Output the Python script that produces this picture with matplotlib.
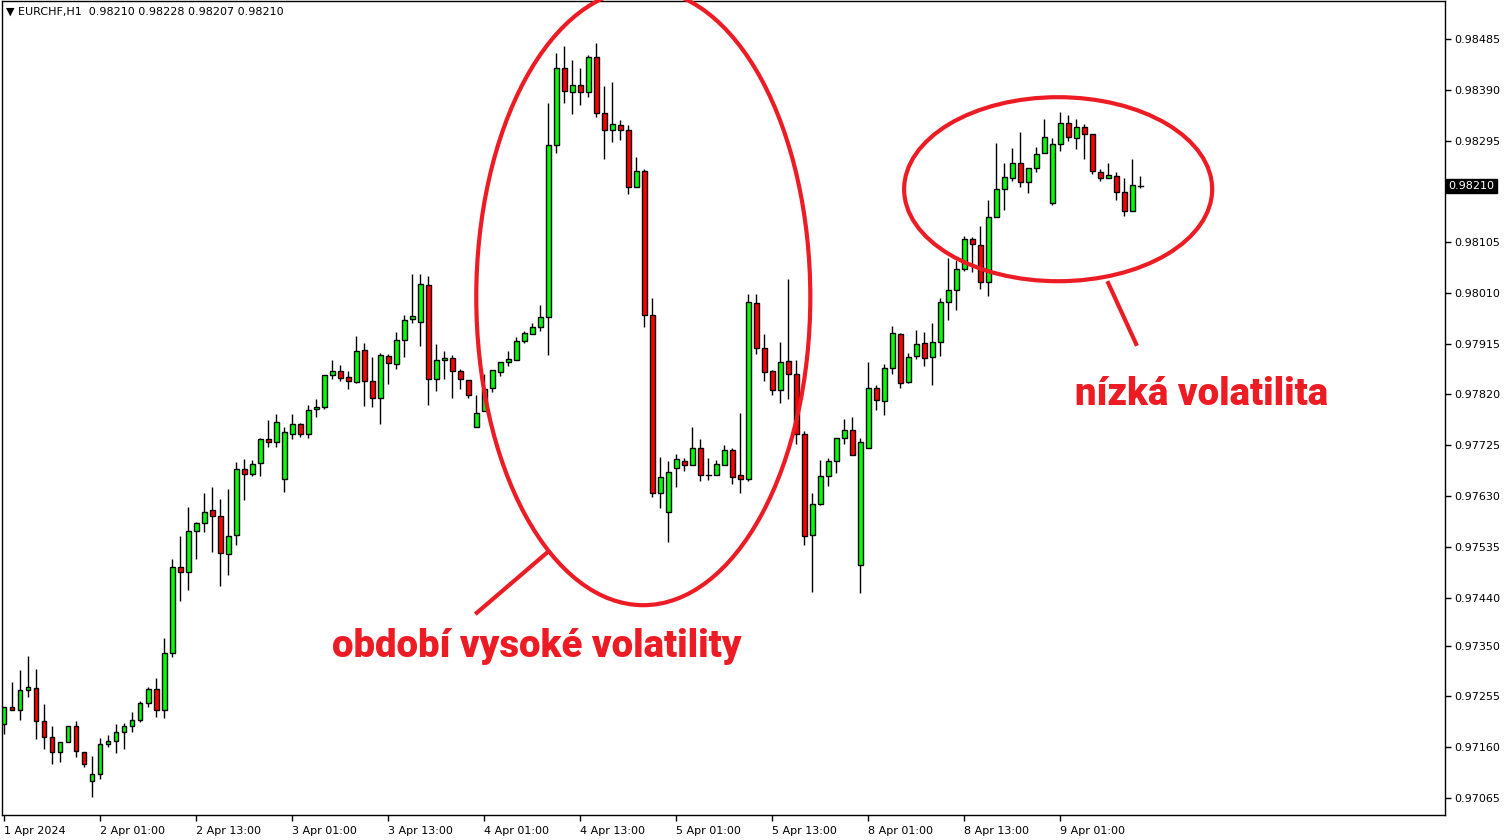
import matplotlib
matplotlib.use("Agg")
import matplotlib.pyplot as plt
from matplotlib.patches import Rectangle, Ellipse
from matplotlib.transforms import blended_transform_factory
import numpy as np

symbol = "EURCHF,H1"

# hourly candles
opens = [0.97203, 0.97235, 0.97230, 0.97267, 0.97271, 0.97209, 0.97179, 0.97151, 0.97170, 0.97200,
         0.97151, 0.97097, 0.97110, 0.97166, 0.97172, 0.97188, 0.97200, 0.97211, 0.97243, 0.97269,
         0.97230, 0.97336, 0.97497, 0.97488, 0.97565, 0.97580, 0.97604, 0.97593, 0.97521, 0.97557,
         0.97680, 0.97671, 0.97692, 0.97737, 0.97731, 0.97662, 0.97746, 0.97765, 0.97746, 0.97793,
         0.97796, 0.97856, 0.97864, 0.97853, 0.97843, 0.97903, 0.97845, 0.97813, 0.97892, 0.97877,
         0.97922, 0.97961, 0.97955, 0.98025, 0.97849, 0.97884, 0.97888, 0.97864, 0.97847, 0.97759,
         0.97789, 0.97832, 0.97862, 0.97881, 0.97884, 0.97920, 0.97933, 0.97946, 0.97965, 0.98287,
         0.98431, 0.98386, 0.98399, 0.98386, 0.98451, 0.98347, 0.98315, 0.98324, 0.98315, 0.98208,
         0.98238, 0.97969, 0.97636, 0.97600, 0.97682, 0.97696, 0.97688, 0.97720, 0.97669, 0.97669,
         0.97688, 0.97716, 0.97669, 0.97662, 0.97991, 0.97907, 0.97864, 0.97828, 0.97883, 0.97858,
         0.97746, 0.97557, 0.97615, 0.97667, 0.97696, 0.97738, 0.97754, 0.97501, 0.97720, 0.97832,
         0.97808, 0.97870, 0.97933, 0.97843, 0.97892, 0.97916, 0.97890, 0.97918, 0.97993, 0.98015,
         0.98055, 0.98111, 0.98100, 0.98030, 0.98152, 0.98204, 0.98225, 0.98253, 0.98217, 0.98244,
         0.98272, 0.98178, 0.98289, 0.98328, 0.98300, 0.98320, 0.98307, 0.98236, 0.98225, 0.98229,
         0.98199, 0.98163, 0.98210]
highs = [0.97235, 0.97282, 0.97304, 0.97331, 0.97306, 0.97241, 0.97200, 0.97170, 0.97200, 0.97209,
         0.97151, 0.97144, 0.97177, 0.97183, 0.97203, 0.97205, 0.97226, 0.97246, 0.97273, 0.97290,
         0.97364, 0.97512, 0.97555, 0.97609, 0.97581, 0.97636, 0.97647, 0.97624, 0.97643, 0.97694,
         0.97699, 0.97697, 0.97738, 0.97772, 0.97783, 0.97759, 0.97783, 0.97767, 0.97800, 0.97811,
         0.97856, 0.97884, 0.97875, 0.97864, 0.97929, 0.97916, 0.97890, 0.97897, 0.97896, 0.97937,
         0.97969, 0.98045, 0.98045, 0.98042, 0.97914, 0.97901, 0.97894, 0.97868, 0.97847, 0.97819,
         0.97858, 0.97847, 0.97881, 0.97901, 0.97928, 0.97939, 0.97954, 0.97987, 0.98365, 0.98459,
         0.98472, 0.98446, 0.98431, 0.98455, 0.98478, 0.98397, 0.98405, 0.98333, 0.98324, 0.98264,
         0.98242, 0.98000, 0.97703, 0.97696, 0.97709, 0.97701, 0.97759, 0.97737, 0.97701, 0.97697,
         0.97725, 0.97720, 0.97785, 0.98008, 0.98008, 0.97933, 0.97866, 0.97918, 0.98036, 0.97884,
         0.97752, 0.97636, 0.97697, 0.97701, 0.97738, 0.97774, 0.97778, 0.97738, 0.97881, 0.97838,
         0.97877, 0.97948, 0.97935, 0.97897, 0.97941, 0.97937, 0.97954, 0.98000, 0.98075, 0.98071,
         0.98116, 0.98115, 0.98135, 0.98184, 0.98290, 0.98253, 0.98281, 0.98311, 0.98244, 0.98283,
         0.98335, 0.98300, 0.98348, 0.98343, 0.98335, 0.98326, 0.98307, 0.98242, 0.98253, 0.98236,
         0.98225, 0.98260, 0.98228]
lows = [0.97185, 0.97230, 0.97211, 0.97254, 0.97175, 0.97157, 0.97129, 0.97132, 0.97170, 0.97142,
        0.97123, 0.97067, 0.97100, 0.97160, 0.97149, 0.97157, 0.97188, 0.97207, 0.97235, 0.97216,
        0.97215, 0.97329, 0.97434, 0.97454, 0.97512, 0.97563, 0.97525, 0.97462, 0.97482, 0.97538,
        0.97622, 0.97667, 0.97667, 0.97722, 0.97722, 0.97637, 0.97737, 0.97740, 0.97738, 0.97778,
        0.97793, 0.97849, 0.97845, 0.97830, 0.97841, 0.97798, 0.97796, 0.97765, 0.97840, 0.97868,
        0.97890, 0.97954, 0.97911, 0.97800, 0.97826, 0.97849, 0.97813, 0.97830, 0.97813, 0.97759,
        0.97789, 0.97825, 0.97855, 0.97873, 0.97884, 0.97916, 0.97933, 0.97939, 0.97894, 0.98272,
        0.98365, 0.98345, 0.98361, 0.98376, 0.98339, 0.98260, 0.98292, 0.98296, 0.98195, 0.98208,
        0.97946, 0.97628, 0.97608, 0.97544, 0.97647, 0.97677, 0.97688, 0.97658, 0.97660, 0.97669,
        0.97688, 0.97652, 0.97636, 0.97658, 0.97896, 0.97845, 0.97819, 0.97804, 0.97811, 0.97727,
        0.97538, 0.97450, 0.97613, 0.97649, 0.97673, 0.97727, 0.97707, 0.97448, 0.97720, 0.97791,
        0.97781, 0.97858, 0.97832, 0.97841, 0.97886, 0.97873, 0.97838, 0.97892, 0.97959, 0.97978,
        0.98051, 0.98049, 0.98017, 0.98004, 0.98152, 0.98165, 0.98219, 0.98208, 0.98197, 0.98236,
        0.98272, 0.98174, 0.98275, 0.98294, 0.98279, 0.98260, 0.98232, 0.98219, 0.98225, 0.98184,
        0.98154, 0.98163, 0.98207]
closes = [0.97235, 0.97230, 0.97267, 0.97273, 0.97209, 0.97179, 0.97151, 0.97170, 0.97200, 0.97153,
          0.97129, 0.97110, 0.97166, 0.97172, 0.97188, 0.97200, 0.97211, 0.97243, 0.97269, 0.97230,
          0.97336, 0.97497, 0.97488, 0.97565, 0.97580, 0.97600, 0.97593, 0.97523, 0.97555, 0.97680,
          0.97671, 0.97690, 0.97737, 0.97731, 0.97768, 0.97750, 0.97765, 0.97746, 0.97791, 0.97796,
          0.97856, 0.97864, 0.97851, 0.97845, 0.97901, 0.97845, 0.97813, 0.97894, 0.97879, 0.97922,
          0.97959, 0.97967, 0.98027, 0.97849, 0.97884, 0.97888, 0.97864, 0.97849, 0.97819, 0.97785,
          0.97830, 0.97866, 0.97881, 0.97886, 0.97920, 0.97935, 0.97946, 0.97965, 0.98287, 0.98431,
          0.98388, 0.98399, 0.98386, 0.98451, 0.98347, 0.98315, 0.98326, 0.98315, 0.98208, 0.98238,
          0.97969, 0.97636, 0.97665, 0.97675, 0.97699, 0.97688, 0.97720, 0.97669, 0.97669, 0.97690,
          0.97716, 0.97665, 0.97662, 0.97993, 0.97907, 0.97862, 0.97828, 0.97881, 0.97858, 0.97746,
          0.97555, 0.97615, 0.97667, 0.97696, 0.97738, 0.97754, 0.97707, 0.97731, 0.97832, 0.97810,
          0.97870, 0.97935, 0.97841, 0.97890, 0.97914, 0.97888, 0.97918, 0.97993, 0.98015, 0.98055,
          0.98111, 0.98101, 0.98030, 0.98152, 0.98204, 0.98227, 0.98253, 0.98217, 0.98244, 0.98270,
          0.98302, 0.98289, 0.98328, 0.98302, 0.98320, 0.98307, 0.98238, 0.98225, 0.98231, 0.98199,
          0.98163, 0.98212, 0.98210]

time_labels = ["1 Apr 2024", "2 Apr 01:00", "2 Apr 13:00", "3 Apr 01:00", "3 Apr 13:00",
               "4 Apr 01:00", "4 Apr 13:00", "5 Apr 01:00", "5 Apr 13:00", "8 Apr 01:00",
               "8 Apr 13:00", "9 Apr 01:00"]
label_step = 12
price_ticks = [0.98485, 0.98390, 0.98295, 0.98200, 0.98105, 0.98010, 0.97915, 0.97820,
               0.97725, 0.97630, 0.97535, 0.97440, 0.97350, 0.97255, 0.97160, 0.97065]

RED = "#ed1c24"

W, H = 1508, 840
fig = plt.figure(figsize=(W / 100, H / 100), dpi=100)
ax = fig.add_axes([2 / W, 25 / H, 1443 / W, 814 / H])

n = len(opens)
body_w = 0.62
for i in range(n):
    o, h, l, c = opens[i], highs[i], lows[i], closes[i]
    ax.plot([i, i], [l, h], color="black", lw=1, zorder=2, solid_capstyle="butt")
    if c == o:
        ax.plot([i - body_w / 2, i + body_w / 2], [o, o], color="black", lw=1, zorder=3)
        continue
    col = "#00ff00" if c > o else "#ff0000"
    ax.add_patch(Rectangle((i - body_w / 2, min(o, c)), body_w, abs(c - o),
                           facecolor=col, edgecolor="black", lw=1, zorder=3))

ax.set_xlim(-0.25, 180.1)
ax.set_ylim(0.970332, 0.985561)

ax.yaxis.tick_right()
ax.set_yticks(price_ticks)
# the tick under the current price box keeps its mark but not its label
ax.set_yticklabels(["" if abs(p - closes[-1]) < 0.0002 else "%.5f" % p for p in price_ticks])
ax.set_xticks(np.arange(len(time_labels)) * label_step)
ax.set_xticklabels(time_labels, ha="left")
ax.tick_params(axis="both", length=4, width=1, labelsize=8, direction="out", pad=3)
ax.tick_params(axis="x", pad=4)
for s in ax.spines.values():
    s.set_linewidth(1)

# current price marker
tr = blended_transform_factory(ax.transAxes, ax.transData)
ax.text(1.0025, closes[-1], "%.5f" % closes[-1], transform=tr, color="white", fontsize=8,
        va="center", ha="left", clip_on=False, zorder=10,
        bbox=dict(boxstyle="square,pad=0.2", facecolor="black", edgecolor="black"))

fig.text(6 / W, 1 - 12 / H, "\u25bc %s  %.5f %.5f %.5f %.5f" % (symbol, opens[-1], highs[-1], lows[-1], closes[-1]),
         fontsize=8, va="center", ha="left")

# annotations
ax.add_patch(Ellipse((79.9, 0.98002), 41.75, 0.011525, fill=False, edgecolor=RED, lw=3, clip_on=False, zorder=5))
ax.add_patch(Ellipse((131.75, 0.98204), 38.5, 0.003443, fill=False, edgecolor=RED, lw=3, clip_on=False, zorder=5))
ax.plot([68.1, 58.9], [0.97527, 0.97409], color=RED, lw=3, zorder=5, solid_capstyle="butt")
ax.plot([137.9, 141.6], [0.98032, 0.97911], color=RED, lw=3, zorder=5, solid_capstyle="butt")

big = dict(color=RED, fontsize=27.5, fontweight=900, family=["Roboto", "DejaVu Sans"],
           ha="left", va="baseline", zorder=6)
ax.text(41.0, 0.97329, "období vysoké volatility", **big)
ax.text(133.9, 0.97800, "nízká volatilita", **big)

fig.savefig("out.png", dpi=100)
